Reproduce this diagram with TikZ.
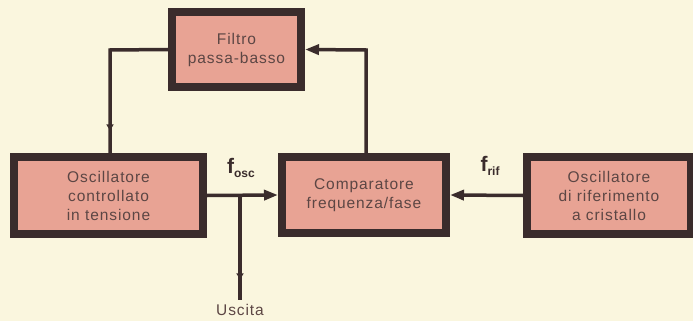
\documentclass[tikz,border=0pt]{standalone}
\usepackage{fontspec}
\setmainfont{Liberation Sans}
\newfontfamily\boxfont[LetterSpace=6]{Liberation Sans}
\usetikzlibrary{arrows.meta,decorations.markings}
\definecolor{bg}{RGB}{250,246,222}
\definecolor{pinkbox}{RGB}{232,163,148}
\definecolor{frame}{RGB}{58,44,44}
\definecolor{txt}{RGB}{92,70,68}
\tikzset{
  blk/.style={draw=frame, fill=pinkbox, line width=8pt, align=center, text=txt,
    font=\boxfont\fontsize{15.5}{19}\selectfont, inner sep=0pt},
  wire/.style={draw=frame, line width=3.5pt},
  tip/.style={-{Triangle[length=14pt,width=10pt]}},
  midtip/.style={postaction={decorate}, decoration={markings,
    mark=at position #1 with {\arrow{Triangle[length=6pt,width=7pt]}}}},
  lbl/.style={text=frame, inner sep=0pt}
}
\begin{document}
\begin{tikzpicture}[x=1pt,y=-1pt]
\fill[bg] (0,0) rectangle (693,321);
\useasboundingbox (0,0) rectangle (693,321);
\node[blk, minimum width=129pt, minimum height=75pt] (filt) at (236.5,49.5) {Filtro\\passa-basso};
\node[blk, minimum width=189pt, minimum height=77pt] (vco) at (108.5,195.5) {Oscillatore\\controllato\\in tensione};
\node[blk, minimum width=164pt, minimum height=76pt] (cmp) at (364,195) {Comparatore\\frequenza/fase};
\node[blk, minimum width=164pt, minimum height=77pt] (ref) at (609,195.5) {Oscillatore\\di riferimento\\a cristallo};
\coordinate (br) at (240,197);
\coordinate (out) at (240,300);
\coordinate (tl) at (110,50);
\coordinate (tr) at (366,50);
\draw[wire, midtip=0.86] (filt.west) -- (tl) -- (tl |- vco.north);
\draw[wire, tip] (tr |- cmp.north) -- (tr) -- (filt.east);
\draw[wire, tip] (vco.east) -- (cmp.west);
\draw[wire, midtip=0.8] (br) -- (out);
\draw[wire, tip] (ref.west) -- (cmp.east);
\node[lbl, font=\bfseries\fontsize{21}{21}\selectfont] (fosc) at (241,168) {f\raisebox{-4pt}{\fontsize{12}{12}\selectfont osc}};
\node[lbl, font=\bfseries\fontsize{21}{21}\selectfont] (frif) at (490,166) {f\raisebox{-4pt}{\fontsize{12}{12}\selectfont rif}};
\node[lbl, text=txt, font=\boxfont\fontsize{15.5}{15.5}\selectfont] (usc) at (240,310) {Uscita};
\end{tikzpicture}
\end{document}
